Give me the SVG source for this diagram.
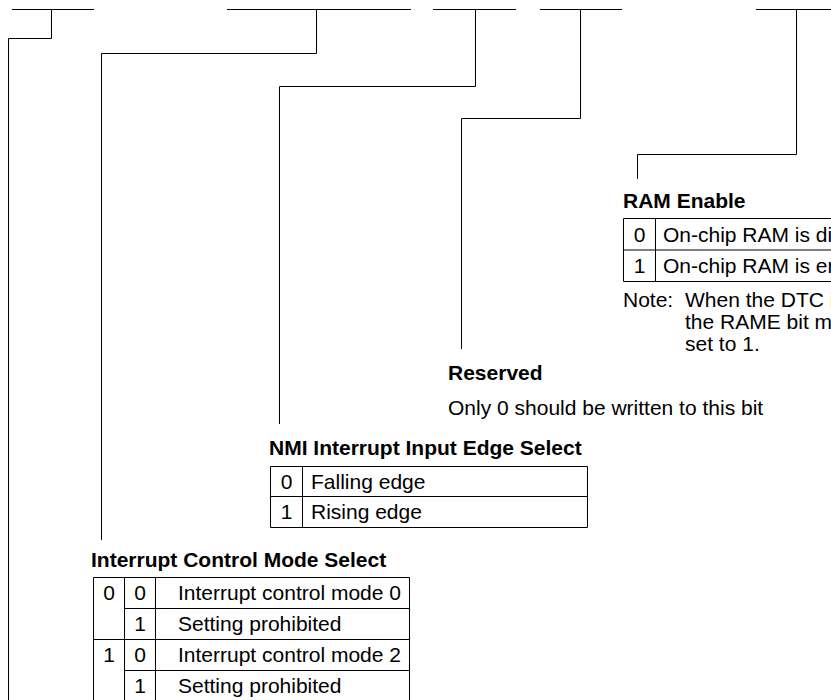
<svg xmlns="http://www.w3.org/2000/svg" width="831" height="700" viewBox="0 0 831 700">
<style>
  .ln{stroke:#000;stroke-width:1;fill:none}
  .tb{stroke:#000;stroke-width:1;fill:none}
  text{font-family:"Liberation Sans",Arial,Helvetica,sans-serif;font-size:21px;fill:#000}
  .h{font-weight:bold}
  .c{text-anchor:middle}
</style>
<rect width="831" height="700" fill="#fff"/>
<g id="register-bits">
  <path class="ln" d="M12 9.5H94M227 9.5H411M433 9.5H516M540 9.5H622M756 9.5H831"/>
</g>
<g id="connectors">
  <path class="ln" d="M51.5 9.5V38.5H8.5V700"/>
  <path class="ln" d="M316.5 9.5V53.5H101.5V540"/>
  <path class="ln" d="M475.5 9.5V86.5H279.5V424"/>
  <path class="ln" d="M580.5 9.5V118.5H461.5V349"/>
  <path class="ln" d="M796.5 9.5V154.5H637.5V179"/>
</g>
<g id="rame">
  <text class="h" x="623" y="208">RAM Enable</text>
  <path class="tb" d="M835 218.5H623.5V281.5H835M623.5 250H835M655.5 218.5V281.5"/>
  <text class="c" x="639.5" y="241.5">0</text>
  <text x="663" y="241.5">On-chip RAM is disabled</text>
  <text class="c" x="639.5" y="273">1</text>
  <text x="663" y="273">On-chip RAM is enabled</text>
</g>
<g id="note">
  <text x="623" y="307">Note:</text>
  <text x="685" y="307">When the DTC is used,</text>
  <text x="685" y="329">the RAME bit must be</text>
  <text x="685" y="351">set to 1.</text>
</g>
<g id="reserved">
  <text class="h" x="448" y="380">Reserved</text>
  <text x="448" y="415">Only 0 should be written to this bit</text>
</g>
<g id="nmieg">
  <text class="h" x="269" y="455">NMI Interrupt Input Edge Select</text>
  <path class="tb" d="M270.5 466.5H587.5V527.5H270.5ZM270.5 496.5H587.5M302.5 466.5V527.5"/>
  <text class="c" x="286.5" y="489">0</text>
  <text x="311" y="489">Falling edge</text>
  <text class="c" x="286.5" y="519">1</text>
  <text x="311" y="519">Rising edge</text>
</g>
<g id="icms">
  <text class="h" x="91" y="567">Interrupt Control Mode Select</text>
  <path class="tb" d="M93.5 705V577.5H409.5V705M124.5 577.5V705M155.5 577.5V705M124.5 608.5H409.5M93.5 639.5H409.5M124.5 670.5H409.5"/>
  <text class="c" x="109" y="600">0</text>
  <text class="c" x="140" y="600">0</text>
  <text x="178" y="600">Interrupt control mode 0</text>
  <text class="c" x="140" y="631">1</text>
  <text x="178" y="631">Setting prohibited</text>
  <text class="c" x="109" y="662">1</text>
  <text class="c" x="140" y="662">0</text>
  <text x="178" y="662">Interrupt control mode 2</text>
  <text class="c" x="140" y="693">1</text>
  <text x="178" y="693">Setting prohibited</text>
</g>
</svg>
